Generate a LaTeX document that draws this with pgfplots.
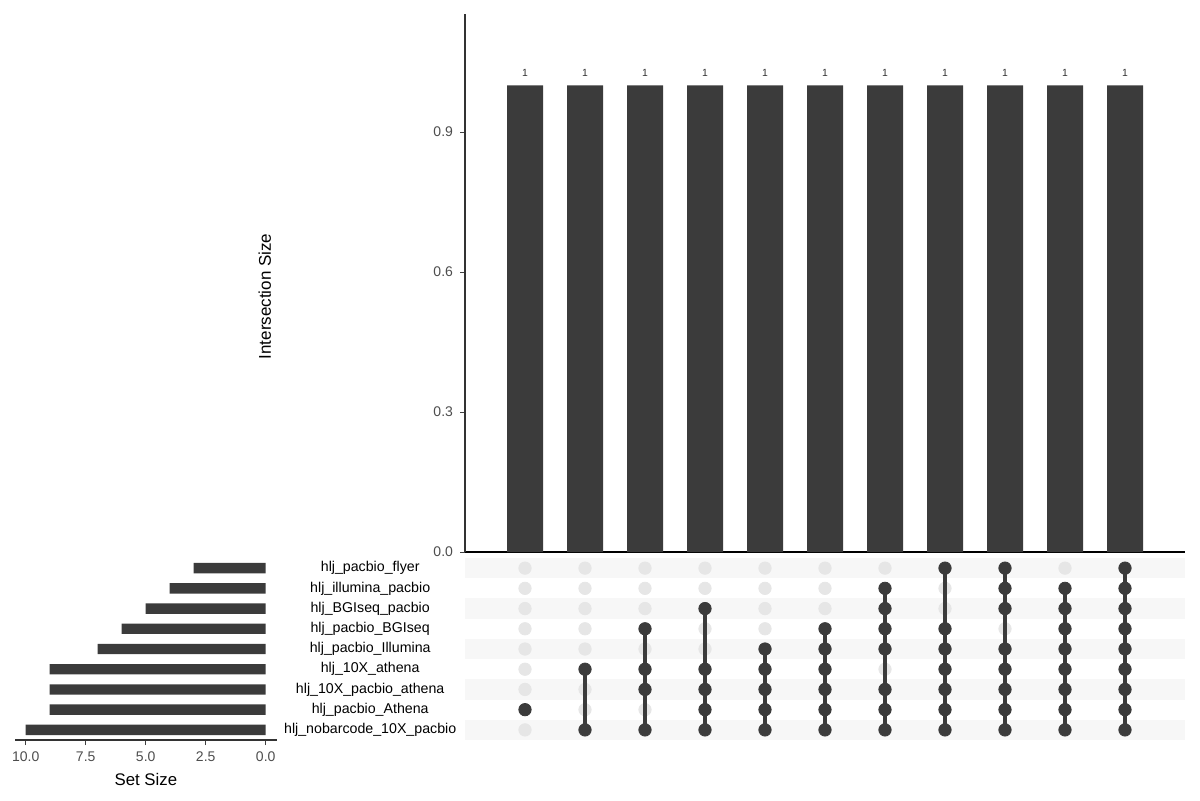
\documentclass[border=0pt]{standalone}
\usepackage{pgfplots}
\pgfplotsset{compat=1.18}
\usepackage{fontspec}
\setmainfont{Liberation Sans}
\definecolor{barc}{HTML}{3B3B3B}
\definecolor{bandc}{HTML}{F7F7F7}
\definecolor{dotl}{HTML}{E6E6E6}
\definecolor{tickc}{HTML}{4D4D4D}
\tikzset{setlab/.style={font=\fontsize{7.1}{8.5}\selectfont, inner sep=0pt, text=black}}
\pgfplotsset{matrixax/.style={
  at={(232.5pt,30pt)}, anchor=south west,
  scale only axis, width=360pt, height=91pt,
  xmin=0, xmax=12, ymin=0.5, ymax=9.5, y dir=reverse,
  axis lines=none, clip=false}}
\begin{document}
\begin{tikzpicture}[x=1pt,y=1pt]
\useasboundingbox (0,0) rectangle (600,400);
% ---- top: intersection size bars
\begin{axis}[
  at={(232.5pt,124pt)}, anchor=south west,
  scale only axis, width=360pt, height=269pt,
  xmin=0, xmax=12, ymin=0, ymax=1.153,
  axis x line*=bottom, axis y line*=left,
  x axis line style={-, black, line width=1.1pt},
  y axis line style={-, black!80, line width=0.55pt},
  xtick=\empty,
  ytick={0,0.3,0.6,0.9},
  yticklabel style={font=\fontsize{7}{8}\selectfont, text=tickc, /pgf/number format/fixed, /pgf/number format/fixed zerofill, /pgf/number format/precision=1, /pgf/number format/assume math mode=true},
  tick align=outside, major tick length=2.5pt,
  tick style={black!75, line width=0.5pt},
  clip=false,
]
\addplot[ybar, bar width=18pt, fill=barc, draw=none,
  nodes near coords,
  nodes near coords style={font=\fontsize{5.2}{6}\selectfont, text=black!80, anchor=base, inner sep=0pt, yshift=4.6pt, /pgf/number format/assume math mode=true}]
  coordinates {(1,1) (2,1) (3,1) (4,1) (5,1) (6,1) (7,1) (8,1) (9,1) (10,1) (11,1)};
\node[rotate=90, font=\fontsize{8.5}{10}\selectfont] at (axis description cs:-0.278,0.475) {Intersection Size};
\end{axis}
% ---- matrix background: bands and absent dots
\begin{axis}[matrixax]
\fill[bandc] (axis cs:0,0.5) rectangle (axis cs:12,1.5);
\fill[bandc] (axis cs:0,2.5) rectangle (axis cs:12,3.5);
\fill[bandc] (axis cs:0,4.5) rectangle (axis cs:12,5.5);
\fill[bandc] (axis cs:0,6.5) rectangle (axis cs:12,7.5);
\fill[bandc] (axis cs:0,8.5) rectangle (axis cs:12,9.5);
\addplot[only marks, mark=*, mark size=3.1pt, color=dotl, mark options={draw=dotl, fill=dotl}] coordinates {
 (1,1) (1,2) (1,3) (1,4) (1,5) (1,6) (1,7) (1,9)
 (2,1) (2,2) (2,3) (2,4) (2,5) (2,7) (2,8)
 (3,1) (3,2) (3,3) (3,5) (3,8)
 (4,1) (4,2) (4,4) (4,5)
 (5,1) (5,2) (5,3) (5,4)
 (6,1) (6,2) (6,3)
 (7,1) (7,6)
 (8,2) (8,3)
 (9,4)
 (10,1)
};
\node[setlab] at (axis cs:-1.58,1) {hlj\_pacbio\_flyer};
\node[setlab] at (axis cs:-1.58,2) {hlj\_illumina\_pacbio};
\node[setlab] at (axis cs:-1.58,3) {hlj\_BGIseq\_pacbio};
\node[setlab] at (axis cs:-1.58,4) {hlj\_pacbio\_BGIseq};
\node[setlab] at (axis cs:-1.58,5) {hlj\_pacbio\_Illumina};
\node[setlab] at (axis cs:-1.58,6) {hlj\_10X\_athena};
\node[setlab] at (axis cs:-1.58,7) {hlj\_10X\_pacbio\_athena};
\node[setlab] at (axis cs:-1.58,8) {hlj\_pacbio\_Athena};
\node[setlab] at (axis cs:-1.58,9) {hlj\_nobarcode\_10X\_pacbio};
\end{axis}
% ---- matrix foreground: lines and present dots
\begin{axis}[matrixax]
\addplot[draw=barc, line width=1.7pt, mark=none] coordinates {(2,6) (2,9)};
\addplot[draw=barc, line width=1.7pt, mark=none] coordinates {(3,4) (3,9)};
\addplot[draw=barc, line width=1.7pt, mark=none] coordinates {(4,3) (4,9)};
\addplot[draw=barc, line width=1.7pt, mark=none] coordinates {(5,5) (5,9)};
\addplot[draw=barc, line width=1.7pt, mark=none] coordinates {(6,4) (6,9)};
\addplot[draw=barc, line width=1.7pt, mark=none] coordinates {(7,2) (7,9)};
\addplot[draw=barc, line width=1.7pt, mark=none] coordinates {(8,1) (8,9)};
\addplot[draw=barc, line width=1.7pt, mark=none] coordinates {(9,1) (9,9)};
\addplot[draw=barc, line width=1.7pt, mark=none] coordinates {(10,2) (10,9)};
\addplot[draw=barc, line width=1.7pt, mark=none] coordinates {(11,1) (11,9)};
\addplot[only marks, mark=*, mark size=3.1pt, color=barc, mark options={draw=barc, fill=barc}] coordinates {
 (1,8)
 (2,6) (2,9)
 (3,4) (3,6) (3,7) (3,9)
 (4,3) (4,6) (4,7) (4,8) (4,9)
 (5,5) (5,6) (5,7) (5,8) (5,9)
 (6,4) (6,5) (6,6) (6,7) (6,8) (6,9)
 (7,2) (7,3) (7,4) (7,5) (7,7) (7,8) (7,9)
 (8,1) (8,4) (8,5) (8,6) (8,7) (8,8) (8,9)
 (9,1) (9,2) (9,3) (9,5) (9,6) (9,7) (9,8) (9,9)
 (10,2) (10,3) (10,4) (10,5) (10,6) (10,7) (10,8) (10,9)
 (11,1) (11,2) (11,3) (11,4) (11,5) (11,6) (11,7) (11,8) (11,9)
};
\end{axis}
% ---- set size
\begin{axis}[
  at={(7.5pt,30pt)}, anchor=south west,
  scale only axis, width=130.85pt, height=91pt,
  xmin=-0.458, xmax=10.446, x dir=reverse,
  ymin=0.5, ymax=9.5, y dir=reverse,
  axis x line*=bottom, axis y line=none,
  x axis line style={-, black!80, line width=0.55pt},
  xtick={0,2.5,5,7.5,10},
  xticklabel style={font=\fontsize{7}{8}\selectfont, text=tickc, /pgf/number format/fixed, /pgf/number format/fixed zerofill, /pgf/number format/precision=1, /pgf/number format/assume math mode=true},
  tick align=outside, major tick length=2.5pt,
  tick style={black!75, line width=0.5pt},
  clip=false,
]
\addplot[xbar, bar width=5.2pt, fill=barc, draw=none] coordinates {
 (3,1) (4,2) (5,3) (6,4) (7,5) (9,6) (9,7) (9,8) (10,9)};
\node[font=\fontsize{8.4}{10}\selectfont] at (axis description cs:0.5,0) [yshift=-19.5pt] {Set Size};
\end{axis}
\end{tikzpicture}
\end{document}
